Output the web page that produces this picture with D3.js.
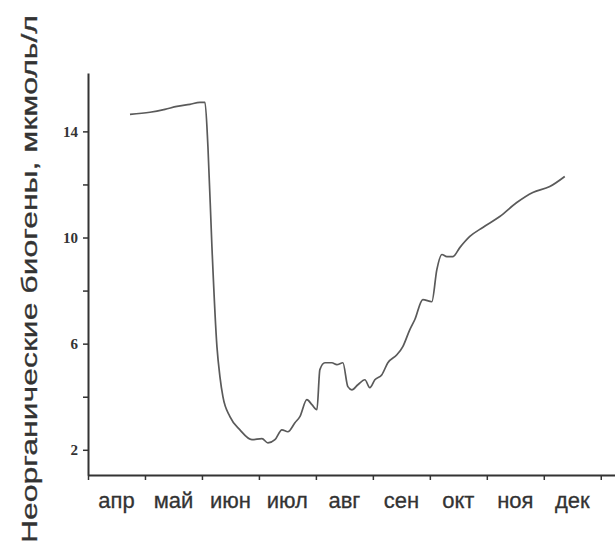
<!DOCTYPE html>
<html>
<head>
<meta charset="utf-8">
<script src="https://cdn.jsdelivr.net/npm/d3@7"></script>
<style>
	body { margin: 0; background: #fff; }
	svg { display: block; }
</style>
</head>
<body>
<script>

// Month labels (each sits between two month ticks)
const monthLabels = ['апр', 'май', 'июн', 'июл', 'авг', 'сен', 'окт', 'ноя', 'дек'];

// Y tick values and which of them carry a label
const yTicks = [2, 4, 6, 8, 10, 12, 14];
const yTickLabels = [2, 6, 10, 14];

// Series: time in months since 1 April, value in мкмоль/л
const seriesMonth = [0.737, 1.088, 1.351, 1.561, 1.789, 1.965, 2.053, 2.105, 2.175, 2.263,
	2.316, 2.368, 2.491, 2.667, 2.877, 3.053, 3.158, 3.281, 3.404, 3.509, 3.632,
	3.719, 3.842, 3.930, 4.018, 4.070, 4.158, 4.281, 4.368, 4.474, 4.561,
	4.632, 4.737, 4.860, 4.947, 5.035, 5.158, 5.263, 5.421, 5.526, 5.649,
	5.737, 5.877, 6.035, 6.123, 6.211, 6.298, 6.404, 6.526, 6.702, 6.930,
	7.228, 7.526, 7.807, 8.105, 8.368];
const seriesValue = [14.64, 14.72, 14.83, 14.94, 15.02, 15.09, 15.09, 13.43, 9.66, 5.89,
	4.75, 4.00, 3.25, 2.75, 2.38, 2.42, 2.26, 2.38, 2.75, 2.68, 3.02,
	3.25, 3.89, 3.70, 3.51, 5.02, 5.28, 5.28, 5.21, 5.28, 4.38,
	4.26, 4.45, 4.64, 4.34, 4.64, 4.83, 5.28, 5.58, 5.89, 6.53,
	6.91, 7.66, 7.58, 8.79, 9.36, 9.28, 9.28, 9.62, 10.04, 10.38,
	10.79, 11.32, 11.70, 11.92, 12.30];

const yTitle = 'Неорганические биогены, мкмоль/л';

const width = 615;
const height = 547;

var svg = d3.select('body').append('svg')
	.attr('width', width)
	.attr('height', height);

// scales
var xScale = d3.scaleLinear().domain([0, 9.25]).range([88, 615]);
var yScale = d3.scaleLinear().domain([1.05, 16.2]).range([475, 73]);

var ink = '#333';

// x-axis
var xAxis = d3.axisBottom(xScale)
	.tickValues(d3.range(0, 10))
	.tickSize(5)
	.tickSizeOuter(0)
	.tickFormat('');
var xAxisGroup = svg.append('g')
	.attr('transform', `translate(0,${yScale.range()[0]})`)
	.call(xAxis);

// y-axis
var yAxis = d3.axisLeft(yScale)
	.tickValues(yTicks)
	.tickSize(5)
	.tickSizeOuter(0)
	.tickFormat(d => yTickLabels.includes(d) ? d : '');
var yAxisGroup = svg.append('g')
	.attr('transform', `translate(${xScale.range()[0]},0)`)
	.call(yAxis);

[xAxisGroup, yAxisGroup].forEach(function(g) {
	g.select('.domain').attr('stroke', ink).attr('stroke-width', 2);
	g.selectAll('.tick line').attr('stroke', ink).attr('stroke-width', 1.5);
});

yAxisGroup.selectAll('.tick text')
	.attr('x', -10)
	.attr('fill', ink)
	.style('font-family', '"Liberation Serif", serif')
	.style('font-weight', 'bold')
	.style('font-size', '15px');

// month labels centred between month ticks
svg.append('g').selectAll('text')
	.data(monthLabels)
	.enter().append('text')
	.attr('x', (d, i) => xScale(i + 0.5))
	.attr('y', 508)
	.attr('text-anchor', 'middle')
	.attr('fill', ink)
	.attr('stroke', ink)
	.attr('stroke-width', 0.3)
	.style('font-family', '"Liberation Sans", Arial, sans-serif')
	.style('font-size', '22px')
	.text(d => d);

// rotated y title, stretched along its length like the original
svg.append('text')
	.attr('transform', 'translate(37,543) rotate(-90)')
	.attr('text-anchor', 'start')
	.attr('fill', ink)
	.attr('stroke', ink)
	.attr('stroke-width', 0.3)
	.attr('textLength', 528)
	.attr('lengthAdjust', 'spacingAndGlyphs')
	.style('font-family', '"Liberation Sans", Arial, sans-serif')
	.style('font-size', '22px')
	.text(yTitle);

// the series line
var line = d3.line()
	.x(d => xScale(d[0]))
	.y(d => yScale(d[1]))
	.curve(d3.curveMonotoneX);

svg.append('path')
	.datum(d3.zip(seriesMonth, seriesValue))
	.attr('d', line)
	.attr('fill', 'none')
	.attr('stroke', '#5a5a5a')
	.attr('stroke-width', 1.7)
	.attr('stroke-linejoin', 'round');

</script>
</body>
</html>
